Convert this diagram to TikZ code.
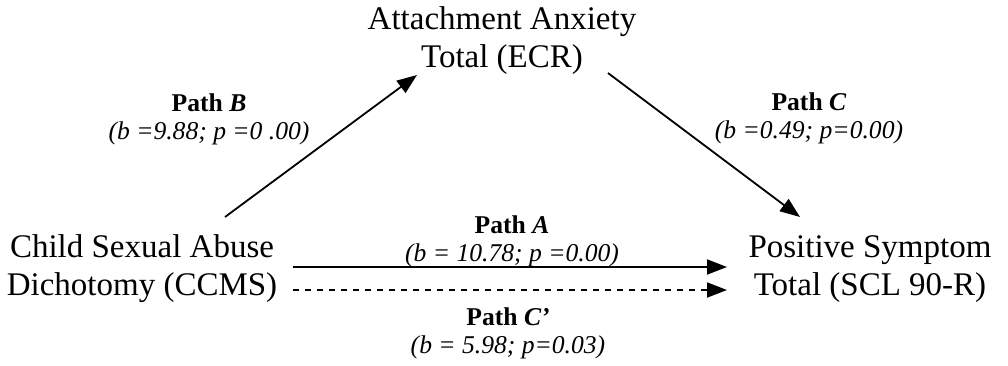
\documentclass[tikz,border=0pt]{standalone}
\usepackage{fontspec}
\setmainfont{Liberation Serif}
\usetikzlibrary{arrows.meta,calc}

\tikzset{
  varbox/.style={align=center,inner sep=0pt,font=\fontsize{16.5}{19}\selectfont},
  pathlbl/.style={align=center,inner sep=0pt,font=\fontsize{12.8}{14}\selectfont},
  effect/.style={-{Triangle[length=10pt,width=7.5pt]},line width=0.9pt}
}

\begin{document}
\begin{tikzpicture}[x=0.5pt,y=-0.5pt]
    \useasboundingbox (0,0) rectangle (1008,365);

    % Variables
    \node[varbox] (anx) at (502,41) {Attachment Anxiety\\Total (ECR)};
    \node[varbox] (csa) at (142,269) {Child Sexual Abuse\\Dichotomy (CCMS)};
    \node[varbox] (sym) at (870,269) {Positive Symptom\\Total (SCL 90-R)};

    % Paths
    \draw[effect] ($(csa)+(83,-52)$) -- ($(anx)+(-85,34)$);
    \draw[effect] ($(anx)+(106,32)$) -- ($(sym)+(-70,-52)$);
    \draw[effect] ($(csa)+(151,-2)$) -- ($(sym)+(-143,-2)$);
    \draw[effect,dashed] ($(csa)+(151,21)$) -- ($(sym)+(-143,21)$);

    % Coefficients
    \node[pathlbl] (lblB) at (209,119) {\textbf{Path \textit{B}}\\\textit{(b =9.88; p =0 .00)}};
    \node[pathlbl] (lblC) at (809,118) {\textbf{Path \textit{C}}\\\textit{(b =0.49; p=0.00)}};
    \node[pathlbl] (lblA) at (512,241) {\textbf{Path \textit{A}}\\\textit{(b = 10.78; p =0.00)}};
    \node[pathlbl] (lblCp) at (508,333) {\textbf{Path \textit{C’}}\\\textit{(b = 5.98; p=0.03)}};
\end{tikzpicture}
\end{document}
